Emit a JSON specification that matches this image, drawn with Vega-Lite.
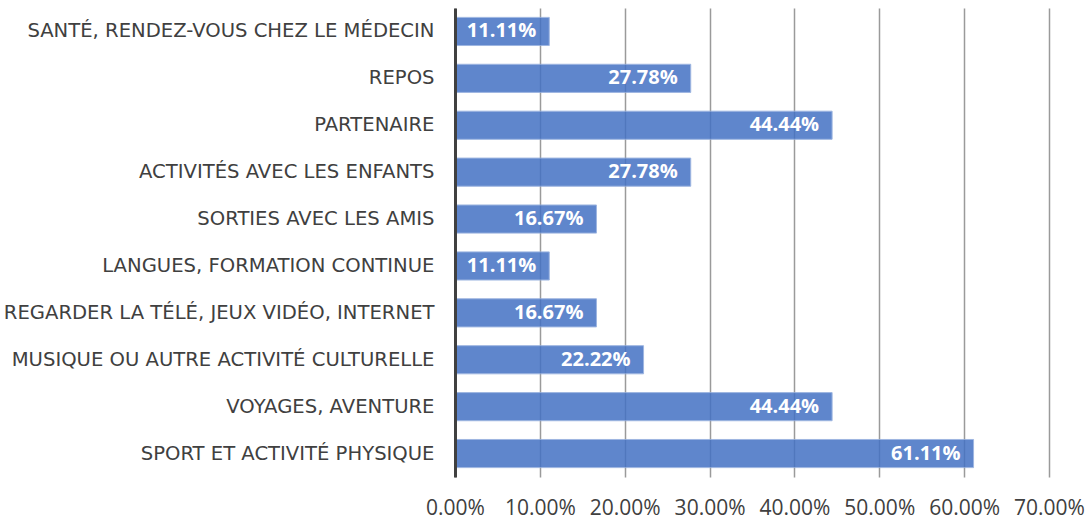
{
  "$schema": "https://vega.github.io/schema/vega-lite/v6.json",
  "width": 594,
  "height": 469,
  "autosize": {"type": "none"},
  "padding": {"left": 455, "top": 8, "right": 43, "bottom": 46},
  "background": "white",
  "config": {"view": {"stroke": null}, "font": "Open Sans"},
  "data": {"values": [
    {"cat": "SANTÉ, RENDEZ-VOUS CHEZ LE MÉDECIN", "v": 0.1111},
    {"cat": "REPOS", "v": 0.2778},
    {"cat": "PARTENAIRE", "v": 0.4444},
    {"cat": "ACTIVITÉS AVEC LES ENFANTS", "v": 0.2778},
    {"cat": "SORTIES AVEC LES AMIS", "v": 0.1667},
    {"cat": "LANGUES, FORMATION CONTINUE", "v": 0.1111},
    {"cat": "REGARDER LA TÉLÉ, JEUX VIDÉO, INTERNET", "v": 0.1667},
    {"cat": "MUSIQUE OU AUTRE ACTIVITÉ CULTURELLE", "v": 0.2222},
    {"cat": "VOYAGES, AVENTURE", "v": 0.4444},
    {"cat": "SPORT ET ACTIVITÉ PHYSIQUE", "v": 0.6111}
  ]},
  "encoding": {
    "y": {"field": "cat", "type": "nominal", "sort": null, "title": null,
      "scale": {"paddingInner": 0.4, "paddingOuter": 0.2},
      "axis": {"ticks": false, "labelPadding": 21, "labelFont": "DejaVu Sans", "labelFontSize": 19.6, "labelColor": "#404040", "labelLimit": 460,
        "domainColor": "#404040", "domainWidth": 3, "zindex": 2}},
    "x": {"field": "v", "type": "quantitative", "title": null,
      "scale": {"domain": [0, 0.7], "nice": false},
      "axis": {"format": ".2%", "values": [0, 0.1, 0.2, 0.3, 0.4, 0.5, 0.6, 0.7], "ticks": false, "domain": false, "labelOverlap": false, "labelFlush": false, "labelBound": false,
        "labelPadding": 20, "labelFontSize": 21, "labelColor": "#404040", "gridColor": "#9a9a9a", "gridWidth": 1.5}}
  },
  "layer": [
    {"mark": {"type": "bar", "color": "#4472C4", "opacity": 0.85, "stroke": "#8eaadc", "strokeWidth": 1}},
    {"mark": {"type": "text", "align": "right", "dx": -13, "color": "white", "fontWeight": "bold", "fontSize": 20, "baseline": "middle"},
      "encoding": {"text": {"field": "v", "type": "quantitative", "format": ".2%"}}}
  ]
}
